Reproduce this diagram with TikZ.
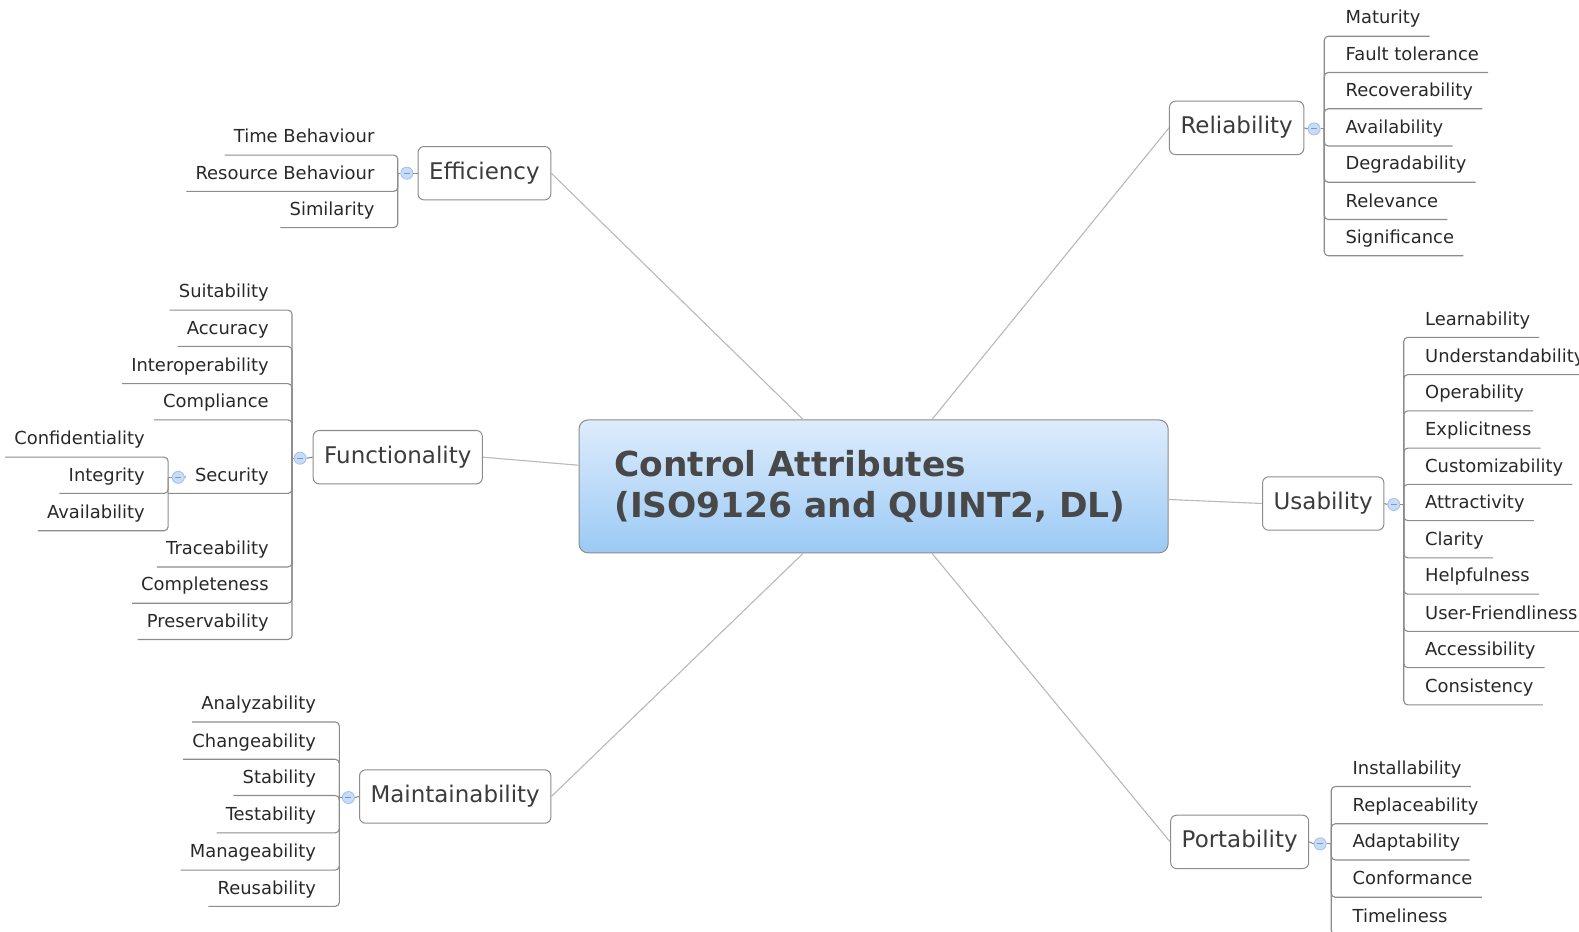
\documentclass[tikz,border=0pt]{standalone}
\usepackage{fontspec}
\setmainfont{DejaVu Sans}
\usepackage{tikz}

\definecolor{spokegray}{RGB}{185,185,185}
\definecolor{branchgray}{RGB}{140,140,140}
\definecolor{boxgray}{RGB}{140,140,140}
\definecolor{leaftext}{RGB}{40,40,40}
\definecolor{topictext}{RGB}{60,60,60}
\definecolor{ctrtext}{RGB}{72,72,72}
\definecolor{ctrtop}{RGB}{222,236,252}
\definecolor{ctrbottom}{RGB}{155,202,245}
\definecolor{tglfill}{RGB}{200,220,248}
\definecolor{tglline}{RGB}{160,192,238}

\begin{document}
\begin{tikzpicture}[x=1pt,y=-1pt,
  spoke/.style={draw=spokegray, line width=1.1pt},
  branch/.style={draw=branchgray, line width=1.1pt, rounded corners=4pt},
  topic/.style={draw=boxgray, fill=white, rounded corners=6pt, line width=1pt, inner xsep=11pt, minimum height=53pt, text height=17pt, text depth=5pt, text=topictext, font=\fontsize{22.8}{26}\selectfont},
  leaf/.style={text=leaftext, font=\fontsize{17.8}{20}\selectfont, text height=13pt, text depth=4pt, inner xsep=9pt, inner ysep=8pt},
  leafR/.style={leaf, anchor=south west},
  leafL/.style={leaf, anchor=south east},
  toggle/.style={circle, draw=tglline, fill=tglfill, minimum size=12pt, inner sep=0pt, line width=0.8pt,
    path picture={\draw[tglline!80!black, line width=0.8pt] ([xshift=-3pt]path picture bounding box.center) -- ([xshift=3pt]path picture bounding box.center);}}
]
\useasboundingbox (0,0) rectangle (1568,925);

% Central topic
\node[draw=boxgray, line width=1pt, rounded corners=9pt, top color=ctrtop, bottom color=ctrbottom, text width=515pt, inner xsep=35pt, minimum height=132pt, align=left, text=ctrtext, font=\bfseries\fontsize{34.2}{40}\selectfont] (ctr) at (867.5,483) {Control Attributes\\(ISO9126 and QUINT2, DL)};

% Main topics
\node[topic] (eff) at (481,172) {Efficiency};
\node[topic] (rel) at (1228,127) {Reliability};
\node[topic] (fun) at (395,454) {Functionality};
\node[topic] (usa) at (1314,500) {Usability};
\node[topic] (mai) at (452,791) {Maintainability};
\node[topic] (por) at (1231,836) {Portability};

% Spokes from the centre
\draw[spoke] ([xshift=-70pt]ctr.north) -- (eff.east);
\draw[spoke] ([xshift=58pt]ctr.north) -- (rel.west);
\draw[spoke] ([yshift=21pt]ctr.west) -- (fun.east);
\draw[spoke] ([yshift=-13pt]ctr.east) -- (usa.west);
\draw[spoke] ([xshift=-70pt]ctr.south) -- (mai.east);
\draw[spoke] ([xshift=58pt]ctr.south) -- (por.west);

% Toggles and spine points
\node[toggle] (tgEff) at (404,172) {};
\node[toggle] (tgRel) at (1305,128) {};
\node[toggle] (tgFun) at (298,455) {};
\node[toggle] (tgSec) at (177,474) {};
\node[toggle] (tgUsa) at (1384,501) {};
\node[toggle] (tgMai) at (346,792) {};
\node[toggle] (tgPor) at (1311,838) {};
\coordinate (sEff) at (395,172);
\coordinate (sRel) at (1315,128);
\coordinate (sFun) at (290,455);
\coordinate (sSec) at (167,474);
\coordinate (sUsa) at (1394,501);
\coordinate (sMai) at (337,792);
\coordinate (sPor) at (1322,838);

\draw[branch] (eff.west) -- (tgEff.east);
\draw[branch] (tgEff.west) -- (sEff);
\draw[branch] (rel.east) -- (tgRel.west);
\draw[branch] (tgRel.east) -- (sRel);
\draw[branch] (fun.west) -- (tgFun.east);
\draw[branch] (tgFun.west) -- (sFun);
\draw[branch] (usa.east) -- (tgUsa.west);
\draw[branch] (tgUsa.east) -- (sUsa);
\draw[branch] (mai.west) -- (tgMai.east);
\draw[branch] (tgMai.west) -- (sMai);
\draw[branch] (por.east) -- (tgPor.west);
\draw[branch] (tgPor.east) -- (sPor);

% Efficiency leaves
\node[leafL] (el1) at (381,154) {Time Behaviour};
\node[leafL] (el2) at (381,190) {Resource Behaviour};
\node[leafL] (el3) at (381,226) {Similarity};
\draw[branch] (sEff) |- (el1.south west);
\draw[branch] (sEff) |- (el2.south west);
\draw[branch] (sEff) |- (el3.south west);

% Reliability leaves
\node[leafR] (rl1) at (1327,36) {Maturity};
\node[leafR] (rl2) at (1327,72) {Fault tolerance};
\node[leafR] (rl3) at (1327,108) {Recoverability};
\node[leafR] (rl4) at (1327,145) {Availability};
\node[leafR] (rl5) at (1327,181) {Degradability};
\node[leafR] (rl6) at (1327,218) {Relevance};
\node[leafR] (rl7) at (1327,254) {Significance};
\draw[branch] (sRel) |- (rl1.south east);
\draw[branch] (sRel) |- (rl2.south east);
\draw[branch] (sRel) |- (rl3.south east);
\draw[branch] (sRel) |- (rl4.south east);
\draw[branch] (sRel) |- (rl5.south east);
\draw[branch] (sRel) |- (rl6.south east);
\draw[branch] (sRel) |- (rl7.south east);

% Functionality leaves
\node[leafL] (fl1) at (276,308) {Suitability};
\node[leafL] (fl2) at (276,344) {Accuracy};
\node[leafL] (fl3) at (276,381) {Interoperability};
\node[leafL] (fl4) at (276,417) {Compliance};
\node[leafL] (fs) at (276,490) {Security};
\node[leafL] (fl5) at (276,563) {Traceability};
\node[leafL] (fl6) at (276,599) {Completeness};
\node[leafL] (fl7) at (276,635) {Preservability};
\draw[branch] (sFun) |- (fl1.south west);
\draw[branch] (sFun) |- (fl2.south west);
\draw[branch] (sFun) |- (fl3.south west);
\draw[branch] (sFun) |- (fl4.south west);
\draw[branch] (sFun) |- (sSec |- fs.south);
\draw[branch] (sFun) |- (fl5.south west);
\draw[branch] (sFun) |- (fl6.south west);
\draw[branch] (sFun) |- (fl7.south west);

% Security leaves
\draw[branch] (fs.west) -- (tgSec.east);
\draw[branch] (tgSec.west) -- (sSec);
\node[leafL] (sl1) at (153,454) {Confidentiality};
\node[leafL] (sl2) at (153,490) {Integrity};
\node[leafL] (sl3) at (153,527) {Availability};
\draw[branch] (sSec) |- (sl1.south west);
\draw[branch] (sSec) |- (sl2.south west);
\draw[branch] (sSec) |- (sl3.south west);

% Usability leaves
\node[leafR] (us1) at (1406,335) {Learnability};
\node[leafR] (us2) at (1406,372) {Understandability};
\node[leafR] (us3) at (1406,408) {Operability};
\node[leafR] (us4) at (1406,445) {Explicitness};
\node[leafR] (us5) at (1406,481) {Customizability};
\node[leafR] (us6) at (1406,517) {Attractivity};
\node[leafR] (us7) at (1406,554) {Clarity};
\node[leafR] (us8) at (1406,590) {Helpfulness};
\node[leafR] (us9) at (1406,627) {User-Friendliness};
\node[leafR] (us10) at (1406,663) {Accessibility};
\node[leafR] (us11) at (1406,700) {Consistency};
\draw[branch] (sUsa) |- (us1.south east);
\draw[branch] (sUsa) |- (us2.south east);
\draw[branch] (sUsa) |- (us3.south east);
\draw[branch] (sUsa) |- (us4.south east);
\draw[branch] (sUsa) |- (us5.south east);
\draw[branch] (sUsa) |- (us6.south east);
\draw[branch] (sUsa) |- (us7.south east);
\draw[branch] (sUsa) |- (us8.south east);
\draw[branch] (sUsa) |- (us9.south east);
\draw[branch] (sUsa) |- (us10.south east);
\draw[branch] (sUsa) |- (us11.south east);

% Maintainability leaves
\node[leafL] (ml1) at (323,717) {Analyzability};
\node[leafL] (ml2) at (323,754) {Changeability};
\node[leafL] (ml3) at (323,790) {Stability};
\node[leafL] (ml4) at (323,827) {Testability};
\node[leafL] (ml5) at (323,864) {Manageability};
\node[leafL] (ml6) at (323,900) {Reusability};
\draw[branch] (sMai) |- (ml1.south west);
\draw[branch] (sMai) |- (ml2.south west);
\draw[branch] (sMai) |- (ml3.south west);
\draw[branch] (sMai) |- (ml4.south west);
\draw[branch] (sMai) |- (ml5.south west);
\draw[branch] (sMai) |- (ml6.south west);

% Portability leaves
\node[leafR] (pl1) at (1334,781) {Installability};
\node[leafR] (pl2) at (1334,818) {Replaceability};
\node[leafR] (pl3) at (1334,854) {Adaptability};
\node[leafR] (pl4) at (1334,891) {Conformance};
\node[leafR] (pl5) at (1334,928) {Timeliness};
\draw[branch] (sPor) |- (pl1.south east);
\draw[branch] (sPor) |- (pl2.south east);
\draw[branch] (sPor) |- (pl3.south east);
\draw[branch] (sPor) |- (pl4.south east);
\draw[branch] (sPor) |- (pl5.south east);

\end{tikzpicture}
\end{document}
